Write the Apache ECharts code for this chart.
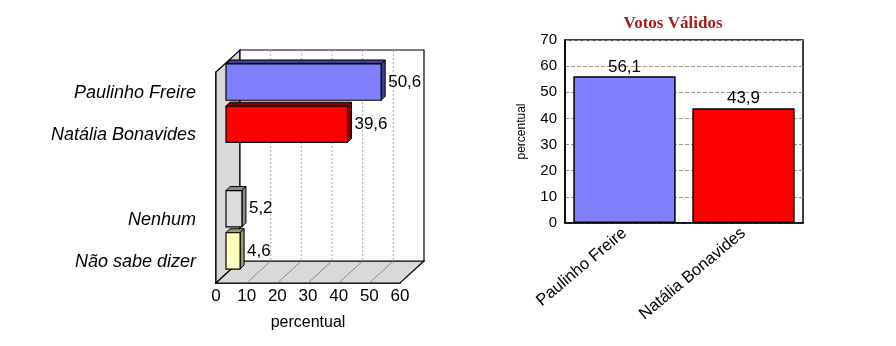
<!DOCTYPE html>
<html style="height: 100%;">
<head>
  <meta charset="utf-8">
  <script src="https://cdn.jsdelivr.net/npm/echarts@6/dist/echarts.min.js"></script>
</head>
<body style="height: 100%; margin: 0; background-color: #fff;">
<div id="container" style="width: 896px; height: 346px;"></div>
<script type="text/javascript">
// left chart: intencao de voto
var leftCats = ['Paulinho Freire', 'Natália Bonavides', '', 'Nenhum', 'Não sabe dizer'];
var leftValues = [50.6, 39.6, null, 5.2, 4.6];
var leftTicks = [0, 10, 20, 30, 40, 50, 60];
// right chart: votos validos
var rightCats = ['Paulinho Freire', 'Natália Bonavides'];
var rightValues = [56.1, 43.9];

var leftFront = ['#8080ff', '#ff0000', '#fff', '#dcdcdc', '#ffffc0'];
var leftSide = ['#40408a', '#800000', '#fff', '#8c8c8c', '#9a9a60'];

var DX = 24, DY = 22;      // depth of the 3D box
var OX = 10, OY = -11;     // where bars sit inside the box
var BD = 4;                // bar thickness

var dom = document.getElementById('container');
var myChart = echarts.init(dom);

function fmt(v) {
    return String(v).replace('.', ',');
}

var option = {
    animation: false,
    textStyle: { fontFamily: 'Arial' },
    title: {
        text: 'Votos Válidos',
        left: 668, top: 10, textAlign: 'center',
        textStyle: { fontFamily: 'Liberation Serif', fontSize: 17, fontWeight: 'bold', color: '#a3201e' }
    },
    grid: [
        { left: 216, right: 496, top: 72, bottom: 63 },
        { left: 565, right: 93, top: 40, bottom: 123, show: true, borderColor: '#000', borderWidth: 1.5 }
    ],
    xAxis: [
        {
            gridIndex: 0, type: 'value', min: 0, max: 60, interval: 10,
            name: 'percentual', nameLocation: 'middle', nameGap: 32,
            nameTextStyle: { fontSize: 16, color: '#000' },
            axisLine: { show: true, lineStyle: { color: '#000', width: 1.5 } },
            axisTick: { show: false },
            splitLine: { show: false },
            axisLabel: { fontSize: 17, color: '#000', margin: 5 }
        },
        {
            gridIndex: 1, type: 'category', data: rightCats,
            axisLine: { show: true, lineStyle: { color: '#000', width: 1.5 } },
            axisTick: { show: false },
            axisLabel: { rotate: 40, fontSize: 16.5, color: '#000', interval: 0, margin: 8 }
        }
    ],
    yAxis: [
        {
            gridIndex: 0, type: 'category', data: leftCats, inverse: true,
            axisLine: { show: true, lineStyle: { color: '#000', width: 1.5 } },
            axisTick: { show: false },
            axisLabel: { fontSize: 18, fontStyle: 'italic', color: '#000', margin: 20 }
        },
        {
            gridIndex: 1, type: 'value', min: 0, max: 70, interval: 10,
            name: 'percentual', nameLocation: 'middle', nameGap: 37,
            nameTextStyle: { fontSize: 12, color: '#000' },
            axisLine: { show: true, lineStyle: { color: '#000', width: 1.5 } },
            axisTick: { show: false },
            splitLine: { show: true, lineStyle: { color: '#999', type: 'dashed' } },
            axisLabel: { fontSize: 15, color: '#000', margin: 8 }
        }
    ],
    series: [
        {
            // box frame: side wall, floor and back wall
            type: 'custom', xAxisIndex: 0, yAxisIndex: 0, silent: true, z: 1,
            data: [[0, 0]],
            renderItem: function (params, api) {
                var cs = params.coordSys;
                var x0 = cs.x, y0 = cs.y, x1 = cs.x + cs.width, y1 = cs.y + cs.height;
                var kids = [];
                kids.push({ type: 'polygon', shape: { points: [[x0, y0], [x0 + DX, y0 - DY], [x0 + DX, y1 - DY], [x0, y1]] },
                    style: { fill: '#d9d9d9', stroke: '#000', lineWidth: 1.2 } });
                kids.push({ type: 'polygon', shape: { points: [[x0, y1], [x0 + DX, y1 - DY], [x1 + DX, y1 - DY], [x1, y1]] },
                    style: { fill: '#d9d9d9', stroke: '#000', lineWidth: 1.2 } });
                kids.push({ type: 'rect', shape: { x: x0 + DX, y: y0 - DY, width: cs.width, height: cs.height },
                    style: { fill: '#fff', stroke: '#000', lineWidth: 1.2 } });
                leftTicks.forEach(function (t) {
                    if (t === 0 || t === 60) return;
                    var px = api.coord([t, 0])[0];
                    kids.push({ type: 'line', shape: { x1: px, y1: y1, x2: px + DX, y2: y1 - DY },
                        style: { stroke: '#777', lineWidth: 0.8 } });
                    kids.push({ type: 'line', shape: { x1: px + DX, y1: y0 - DY, x2: px + DX, y2: y1 - DY },
                        style: { stroke: '#999', lineWidth: 0.8, lineDash: [2, 2] } });
                });
                return { type: 'group', children: kids };
            }
        },
        {
            type: 'custom', xAxisIndex: 0, yAxisIndex: 0, z: 2,
            data: leftValues.map(function (v, i) { return [v, i]; }),
            renderItem: function (params, api) {
                var v = api.value(0), i = api.value(1);
                if (v == null || isNaN(v)) return;
                var p0 = api.coord([0, i]);
                var p1 = api.coord([v, i]);
                var h = api.size([0, 1])[1] * 0.86;
                var xl = p0[0] + OX, xr = p1[0] + OX;
                var yt = p0[1] + OY - h / 2, yb = p0[1] + OY + h / 2;
                var idx = params.dataIndex;
                var front = leftFront[idx], side = leftSide[idx];
                return {
                    type: 'group',
                    children: [
                        { type: 'polygon', shape: { points: [[xl, yt], [xl + BD, yt - BD], [xr + BD, yt - BD], [xr, yt]] },
                          style: { fill: side, stroke: '#000', lineWidth: 1 } },
                        { type: 'polygon', shape: { points: [[xr, yt], [xr + BD, yt - BD], [xr + BD, yb - BD], [xr, yb]] },
                          style: { fill: side, stroke: '#000', lineWidth: 1 } },
                        { type: 'rect', shape: { x: xl, y: yt, width: xr - xl, height: yb - yt },
                          style: { fill: front, stroke: '#000', lineWidth: 1.2 } },
                        { type: 'text', x: xr + BD + 3, y: p0[1] + OY,
                          style: { text: fmt(v), fontSize: 17, fontFamily: 'Arial', fill: '#000',
                                   textVerticalAlign: 'middle', verticalAlign: 'middle' } }
                    ]
                };
            }
        },
        {
            type: 'bar', xAxisIndex: 1, yAxisIndex: 1,
            barWidth: '86%',
            data: rightValues.map(function (v, i) {
                return { value: v, itemStyle: { color: ['#8080ff', '#ff0000'][i] } };
            }),
            itemStyle: { borderColor: '#000', borderWidth: 1.5 },
            label: {
                show: true, position: 'top', distance: 1, fontSize: 17, color: '#000',
                formatter: function (p) { return fmt(p.value); }
            }
        }
    ]
};
myChart.setOption(option);
</script>
</body>
</html>
